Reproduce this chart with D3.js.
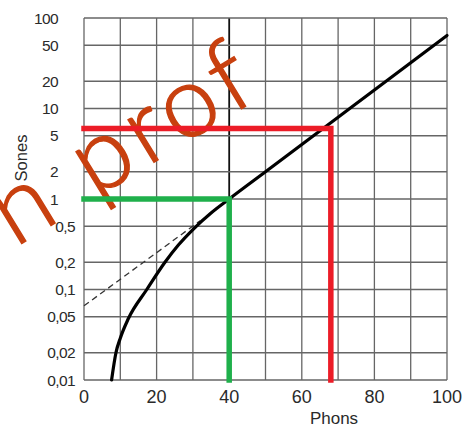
<!DOCTYPE html>
<html>
<head>
<meta charset="utf-8">
<script src="https://cdn.jsdelivr.net/npm/d3@7"></script>
<style>
  html, body { margin: 0; padding: 0; background: #fff; }
  svg { display: block; }
</style>
</head>
<body>
<script>
// Loudness: phons vs sones
const phonTicks = [0, 20, 40, 60, 80, 100];
const phonGrid = [0, 10, 20, 30, 40, 50, 60, 70, 80, 90, 100];
const soneTicks = [100, 50, 20, 10, 5, 2, 1, 0.5, 0.2, 0.1, 0.05, 0.02, 0.01];
const soneLabels = ["100", "50", "20", "10", "5", "2", "1", "0,5", "0,2", "0,1", "0,05", "0,02", "0,01"];

// loudness curve
const curvePhons = [7.6, 8.8, 10, 12.2, 17.3, 22.3, 26, 30, 35, 40, 50, 60, 70, 80, 90, 100];
const curveSones = [0.01, 0.02, 0.029, 0.0475, 0.1, 0.2, 0.31, 0.46, 0.70, 1, 2, 4, 8, 16, 32, 64];

// extrapolated power law below 40 phons
const dashPhons = [0, 32];
const dashSones = [0.066, 0.575];

// marked readings
const greenPoint = { phon: 40, sone: 1 };
const redPoint = { phon: 68, sone: 6 };

const W = 465, H = 428;
const margin = { left: 84, right: 18, top: 18, bottom: 48 };

const svg = d3.select("body").append("svg")
  .attr("width", W).attr("height", H);

const x = d3.scaleLinear().domain([0, 100]).range([margin.left, W - margin.right]);
const y = d3.scaleLog().domain([0.01, 100]).range([H - margin.bottom, margin.top]);

// grid
const grid = svg.append("g");
grid.selectAll("line.v").data(phonGrid).join("line")
  .attr("x1", d => x(d)).attr("x2", d => x(d))
  .attr("y1", y(100)).attr("y2", y(0.01))
  .attr("stroke", d => d === 40 ? "#111" : "#666")
  .attr("stroke-width", d => d === 40 ? 1.8 : 1.3);
grid.selectAll("line.h").data(soneTicks).join("line")
  .attr("x1", x(0)).attr("x2", x(100))
  .attr("y1", d => y(d)).attr("y2", d => y(d))
  .attr("stroke", "#666")
  .attr("stroke-width", 1.3);

// tick labels
const labelFont = "'Liberation Sans', Arial, Helvetica, sans-serif";
svg.append("g").selectAll("text").data(soneTicks).join("text")
  .attr("x", d => d >= 1 ? 58 : 75)
  .attr("y", d => y(d))
  .attr("dy", "0.36em")
  .attr("text-anchor", "end")
  .attr("font-family", labelFont)
  .attr("font-size", 15.5)
  .attr("letter-spacing", -0.6)
  .attr("fill", "#2a2a2a")
  .text((d, i) => soneLabels[i]);

svg.append("g").selectAll("text").data(phonTicks).join("text")
  .attr("x", d => x(d))
  .attr("y", 403)
  .attr("text-anchor", "middle")
  .attr("font-family", labelFont)
  .attr("font-size", 18)
  .attr("fill", "#2a2a2a")
  .text(d => d);

svg.append("text")
  .attr("x", 334).attr("y", 424)
  .attr("text-anchor", "middle")
  .attr("font-family", labelFont)
  .attr("font-size", 17)
  .attr("fill", "#2a2a2a")
  .text("Phons");

svg.append("text")
  .attr("transform", "translate(27,158) rotate(-90)")
  .attr("text-anchor", "middle")
  .attr("font-family", labelFont)
  .attr("font-size", 16.5)
  .attr("fill", "#2a2a2a")
  .text("Sones");

// dashed extrapolation
const lineGen = d3.line().x(d => x(d[0])).y(d => y(d[1]));
svg.append("path")
  .attr("d", lineGen(d3.zip(dashPhons, dashSones)))
  .attr("fill", "none")
  .attr("stroke", "#333")
  .attr("stroke-width", 1.3)
  .attr("stroke-dasharray", "6,4");

// loudness curve
svg.append("path")
  .attr("d", lineGen.curve(d3.curveMonotoneX)(d3.zip(curvePhons, curveSones)))
  .attr("fill", "none")
  .attr("stroke", "#000")
  .attr("stroke-width", 3.2)
  .attr("stroke-linecap", "round");

// watermark
svg.append("text")
  .attr("transform", "translate(-38,280) rotate(-31.5)")
  .attr("font-family", "Lato, 'Open Sans', sans-serif")
  .attr("font-weight", 300)
  .attr("font-size", 100)
  .attr("letter-spacing", 6)
  .attr("fill", "#c8400f")
  .attr("stroke", "#c8400f")
  .attr("stroke-width", 1.4)
  .text("on prof");

// reading markers
function marker(p, color) {
  const path = d3.path();
  path.moveTo(x(0), y(p.sone));
  path.lineTo(x(p.phon), y(p.sone));
  path.lineTo(x(p.phon), y(0.01));
  svg.append("path")
    .attr("d", path.toString())
    .attr("fill", "none")
    .attr("stroke", color)
    .attr("stroke-width", 5.5)
    .attr("stroke-linecap", "square")
    .attr("stroke-linejoin", "miter");
}
marker(redPoint, "#ec1c27");
marker(greenPoint, "#1fb04b");
</script>
</body>
</html>
